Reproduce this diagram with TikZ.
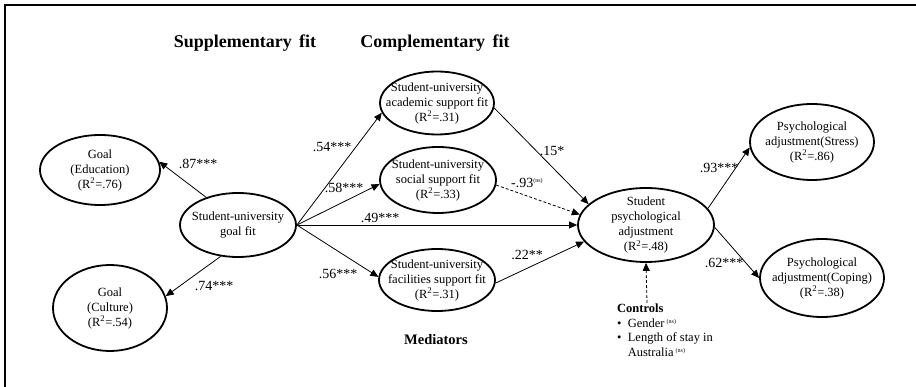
\documentclass[tikz,border=0pt]{standalone}
\usepackage{fontspec}
\setmainfont{Liberation Serif}
\usetikzlibrary{arrows.meta,positioning,shapes.geometric}
\tikzset{
  var/.style={ellipse, draw=black, line width=1.8pt, inner xsep=-16pt, inner ysep=-5pt, align=center, font=\fontsize{12.5}{15}\selectfont},
  arr/.style={-{Triangle[length=8pt,width=7pt]}, line width=0.8pt},
  dasharr/.style={arr, dash pattern=on 3pt off 2pt},
  coef/.style={inner sep=0pt, font=\fontsize{14}{16}\selectfont},
  head/.style={inner sep=0pt, font=\fontsize{18}{21}\selectfont\bfseries}
}
\newcommand{\rsq}[1]{(R\textsuperscript{2}=#1)}
\newcommand{\nsig}{\textsuperscript{\fontsize{6}{6}\selectfont(ns)}}

\begin{document}
\begin{tikzpicture}[x=1pt,y=-1pt]
\useasboundingbox (0,0) rectangle (916,387);
\draw[line width=1.3pt] (5,387) -- (5,5) -- (916,5);

% headings
\node[head] (supp) at (245,43) {Supplementary\, fit};
\node[head] (comp) at (435,43) {Complementary\, fit};
\node[head, font=\fontsize{14.5}{16}\selectfont\bfseries] (med) at (436,340) {Mediators};

% latent variables
\node[var, minimum width=120pt, minimum height=70pt] (edu) at (100,170) {Goal\\(Education)\\\rsq{.76}};
\node[var, minimum width=114pt, minimum height=86pt] (cult) at (110,308) {Goal\\(Culture)\\\rsq{.54}};
\node[var, minimum width=116pt, minimum height=64pt] (goal) at (238,225) {Student-university\\goal fit};
\node[var, minimum width=114pt, minimum height=63pt] (acad) at (437,103) {Student-university\\academic support fit\\\rsq{.31}};
\node[var, minimum width=116pt, minimum height=66pt] (soc) at (438,180) {Student-university\\social support fit\\\rsq{.33}};
\node[var, minimum width=116pt, minimum height=62pt] (fac) at (437,280) {Student-university\\facilities support fit\\\rsq{.31}};
\node[var, minimum width=136pt, minimum height=74pt] (adj) at (646,225) {Student\\psychological\\adjustment\\\rsq{.48}};
\node[var, minimum width=124pt, minimum height=76pt] (stress) at (812,142) {Psychological\\adjustment(Stress)\\\rsq{.86}};
\node[var, minimum width=124pt, minimum height=78pt] (coping) at (822,278) {Psychological\\adjustment(Coping)\\\rsq{.38}};

% controls
\node[anchor=north west, align=left, inner sep=0pt, font=\fontsize{12.5}{14.5}\selectfont] (ctrl) at (617,304)
  {\textbf{Controls}\\
   \textbullet\enspace Gender\,\nsig\\
   \textbullet\enspace Length of stay in\\
   \hphantom{\textbullet\enspace}Australia\,\nsig};
\coordinate (ctl) at (647,303);

% paths
\draw[arr] (goal.139) -- (edu.8);
\draw[arr] (goal.241) -- (cult.12);
\draw[arr] (goal.east) -- (acad.190);
\draw[arr] (goal.east) -- (soc.184);
\draw[arr] (goal.east) -- (adj.west);
\draw[arr] (goal.east) -- (fac.177);
\draw[arr] (acad.-5) -- (adj.160);
\draw[dasharr] (soc.-5) -- (adj.171);
\draw[arr] (fac.-3) -- (adj.195);
\draw[arr] (adj.15) -- (stress.185);
\draw[arr] (adj.-2) -- (coping.180);
\draw[dasharr] (ctl) -- (adj.south);

% coefficients
\node[coef] (c87) at (198,164) {.87***};
\node[coef] (c74) at (214,286) {.74***};
\node[coef] (c54) at (332,147) {.54***};
\node[coef] (c58) at (344,188) {.58***};
\node[coef] (c49) at (380,218) {.49***};
\node[coef] (c56) at (338,274) {.56***};
\node[coef] (c15) at (552,151) {.15*};
\node[coef, anchor=west] (c93n) at (511,183) {-.93\nsig};
\node[coef] (c22) at (527,255) {.22**};
\node[coef] (c93) at (719,168) {.93***};
\node[coef] (c62) at (724,263) {.62***};
\end{tikzpicture}
\end{document}
